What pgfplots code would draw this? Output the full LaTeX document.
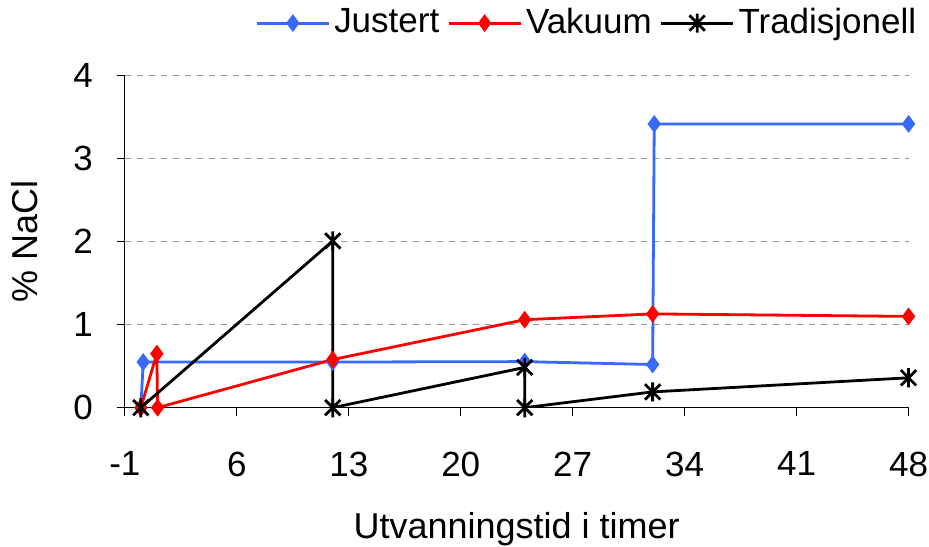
\documentclass[border=0pt]{standalone}
\usepackage{pgfplots}
\pgfplotsset{compat=1.18}
\usepackage{fontspec}
\setmainfont{Liberation Sans}
\definecolor{jblue}{RGB}{55,105,250}
\pgfdeclareplotmark{xstar}{%
  \pgfpathmoveto{\pgfqpoint{0pt}{\pgfplotmarksize}}%
  \pgfpathlineto{\pgfqpoint{0pt}{-\pgfplotmarksize}}%
  \pgfpathmoveto{\pgfqpoint{-0.8\pgfplotmarksize}{-0.8\pgfplotmarksize}}%
  \pgfpathlineto{\pgfqpoint{0.8\pgfplotmarksize}{0.8\pgfplotmarksize}}%
  \pgfpathmoveto{\pgfqpoint{-0.8\pgfplotmarksize}{0.8\pgfplotmarksize}}%
  \pgfpathlineto{\pgfqpoint{0.8\pgfplotmarksize}{-0.8\pgfplotmarksize}}%
  \pgfusepathqstroke}
\begin{document}
\fontsize{17.5}{21}\selectfont
\begin{tikzpicture}
\begin{axis}[
  scale only axis, width=392pt, height=166pt,
  xmin=-1, xmax=48, ymin=0, ymax=4,
  xtick={-1,6,13,20,27,34,41,48}, ytick={0,1,2,3,4},
  axis x line*=bottom, axis y line*=left,
  axis line style={line width=0.6pt},
  tick align=outside, major tick length=4pt,
  tick style={line width=0.6pt, black},
  ymajorgrids, grid style={dashed, gray!80, line width=0.5pt},
  /pgf/number format/assume math mode=true,
  tick label style={font=\fontsize{17.5}{21}\selectfont},
  xticklabel style={inner xsep=0.5pt, yshift=-12pt},
  yticklabel style={xshift=-6pt},
  xlabel={Utvanningstid i timer}, ylabel={\% NaCl},
  label style={font=\fontsize{18}{22}\selectfont},
  xlabel style={at={([yshift=-61pt]axis description cs:0.5,0)}, anchor=center, inner sep=0pt},
  ylabel style={at={([xshift=-50pt]axis description cs:0,0.5)}, anchor=center},
  legend style={draw=none, fill=none, legend columns=3, at={(axis description cs:1,1)}, anchor=north east, xshift=6pt, yshift=38.1pt,
    font=\fontsize{17.5}{21}\selectfont, inner xsep=0pt, inner ysep=1.9pt,
    /tikz/every even column/.append style={column sep=2pt}},
  legend cell align=left,
  legend image code/.code={\draw[#1, mark repeat=2, mark phase=2] plot coordinates {(0pt,0pt) (18pt,0pt) (36pt,0pt)};},
]
\addplot[jblue, line width=1.4pt, mark=diamond*, mark size=3.3pt, mark options={solid, fill=jblue}] coordinates {
  (0,0) (0.15,0.55) (12,0.55) (24,0.555) (32,0.52) (32.1,3.42) (48,3.42)};
\addlegendentry{Justert}
\addplot[red, line width=1.4pt, mark=diamond*, mark size=3.3pt, mark options={solid, fill=red}] coordinates {
  (0,0) (1,0.65) (1.05,0) (12,0.58) (24,1.06) (32,1.13) (48,1.10)};
\addlegendentry{Vakuum}
\addplot[black, line width=1.4pt, mark=xstar, mark size=4.8pt, mark options={solid, line width=1.4pt}] coordinates {
  (0,0) (12,2.01) (12,0) (24,0.485) (24,0) (32,0.19) (48,0.36)};
\addlegendentry{Tradisjonell}
\end{axis}
\end{tikzpicture}
\end{document}
